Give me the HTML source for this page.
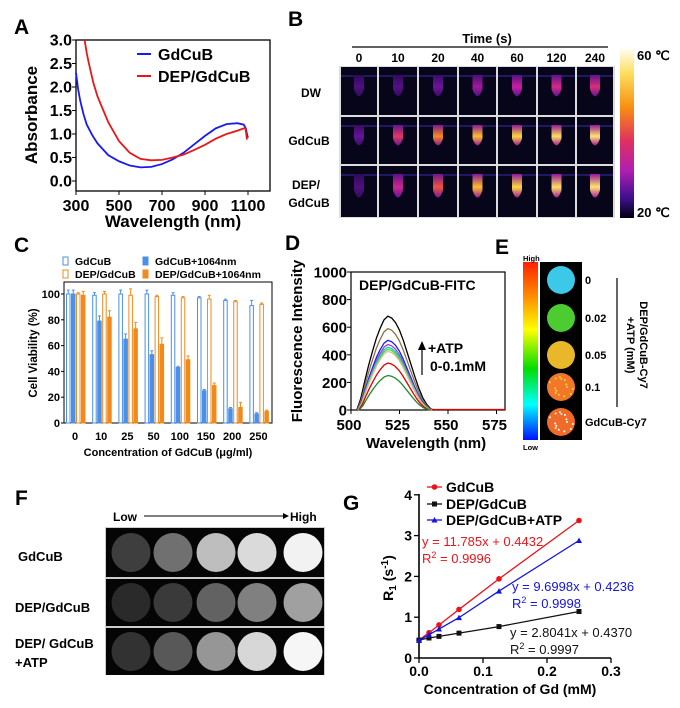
<!DOCTYPE html>
<html><head><meta charset="utf-8"><style>
body{margin:0;background:#fff}
svg{display:block}
text{font-family:"Liberation Sans",Arial,sans-serif}
</style></head><body>
<svg id="fig" width="680" height="708" viewBox="0 0 680 708" xmlns="http://www.w3.org/2000/svg">
<defs>
<linearGradient id="gB" x1="0" y1="0" x2="0" y2="1">
<stop offset="0" stop-color="#ffffff"/><stop offset="0.15" stop-color="#fde060"/><stop offset="0.35" stop-color="#f89010"/><stop offset="0.55" stop-color="#e03060"/><stop offset="0.72" stop-color="#b020b0"/><stop offset="0.88" stop-color="#401090"/><stop offset="1" stop-color="#000010"/>
</linearGradient>
<linearGradient id="gE" x1="0" y1="0" x2="0" y2="1">
<stop offset="0" stop-color="#ff2000"/><stop offset="0.2" stop-color="#ff9000"/><stop offset="0.38" stop-color="#ffff00"/><stop offset="0.6" stop-color="#00dd00"/><stop offset="0.8" stop-color="#00ffff"/><stop offset="1" stop-color="#0010ff"/>
</linearGradient>
</defs>
<g id="gA"></g>
<g id="gBp"></g>
<g id="gC"></g>
<g id="gD"></g>
<g id="gEp"></g>
<g id="gF"></g>
<g id="gG"></g>
</svg>
<script>
// ---------- Panel A data ----------
const aWlBlue=[300,310,320,335,350,375,400,450,500,550,600,650,700,750,800,850,900,950,1000,1050,1080,1090,1095,1100];
const aAbsBlue=[2.3,1.95,1.7,1.42,1.2,0.98,0.8,0.55,0.42,0.33,0.29,0.3,0.36,0.46,0.6,0.78,0.96,1.12,1.21,1.23,1.2,1.12,1.0,0.92];
const aWlRed=[340,350,360,380,400,450,500,550,600,650,700,750,800,850,900,950,1000,1050,1080,1088,1092,1095];
const aAbsRed=[3.0,2.72,2.5,2.1,1.8,1.25,0.85,0.6,0.47,0.44,0.45,0.5,0.56,0.66,0.77,0.9,1.0,1.07,1.12,1.12,1.0,0.88];
const aXTicks=[300,500,700,900,1100];
const aYTicks=[0.0,0.5,1.0,1.5,2.0,2.5,3.0];
// ---------- Panel B data ----------
const bTimes=["0","10","20","40","60","120","240"];
const bRows=["DW","GdCuB","DEP/GdCuB"];
const bHeatDW=[0.22,0.24,0.32,0.45,0.55,0.6,0.62];
const bHeatGd=[0.3,0.65,0.8,0.88,0.92,0.94,0.95];
const bHeatDEP=[0.22,0.58,0.72,0.88,0.92,0.94,0.95];
// ---------- Panel C data ----------
const cCats=["0","10","25","50","100","150","200","250"];
const cGd=[100,99,100,100,99,97,95,91];
const cGdErr=[3,2,3,3,2,1,1,4];
const cGdL=[100,79,65,53,43,25,11,7];
const cGdLErr=[3,4,4,3,1,1,1,1];
const cDep=[100,100,99,98,97,96,94,92];
const cDepErr=[1,2,5,1,1,3,1,1];
const cDepL=[99,82,73,61,49,29,12,9];
const cDepLErr=[3,5,5,5,3,2,4,1];
const cYTicks=[0,20,40,60,80,100];
// ---------- Panel D data ----------
const dPeaks=[680,590,505,475,455,440,425,340,250];
const dColors=["#000000","#8b7346","#1a1aff","#a040d0","#20c8c0","#40e040","#e8b888","#e00000","#1e8a2a"];
const dProfileWl=[503,505,507,509,511,513,515,517,519,521,523,525,527,529,531,533,535,537,539,541,542.5];
const dProfile=[0,0.12,0.3,0.47,0.62,0.76,0.87,0.96,1,0.98,0.93,0.85,0.74,0.61,0.48,0.35,0.23,0.13,0.06,0.015,0];
const dXTicks=[500,525,550,575];
const dYTicks=[0,200,400,600,800,1000];
// ---------- Panel E data ----------
const eLabels=["0","0.02","0.05","0.1","GdCuB-Cy7"];
const eColors=["#3cc8e8","#4ccc30","#e8b828","#f07828","#f06a28"];
// ---------- Panel F data ----------
const fRows=["GdCuB","DEP/GdCuB","DEP/ GdCuB"];
const fGrayGd=[62,112,190,218,242];
const fGrayDep=[42,58,98,128,160];
const fGrayAtp=[50,88,150,215,246];
// ---------- Panel G data ----------
const gX=[0,0.015625,0.03125,0.0625,0.125,0.25];
const gGd=[0.44,0.62,0.81,1.19,1.94,3.37];
const gDep=[0.44,0.49,0.53,0.61,0.77,1.14];
const gAtp=[0.43,0.57,0.71,0.99,1.64,2.88];
const gXTicks=[0.0,0.1,0.2,0.3];
const gYTicks=[0,1,2,3,4];

const NS="http://www.w3.org/2000/svg";
function mk(parent,tag,attrs,txt){const e=document.createElementNS(NS,tag);for(const k in attrs)e.setAttribute(k,attrs[k]);if(txt!==undefined)e.textContent=txt;parent.appendChild(e);return e;}
function txt(p,x,y,s,size,opts){opts=opts||{};const e=mk(p,'text',{x:x,y:y,'font-size':size,'font-weight':opts.bold===false?'normal':'bold','text-anchor':opts.anchor||'start',fill:opts.fill||'#000'},s);if(opts.rot)e.setAttribute('transform','rotate('+opts.rot+' '+x+' '+y+')');return e;}
function marker(g,shape,X,Y,c){let m;
  if(shape=='circle')m=mk(g,'circle',{cx:X,cy:Y,r:2.8,fill:c});
  else if(shape=='square')m=mk(g,'rect',{x:X-2.5,y:Y-2.5,width:5,height:5,fill:c});
  else m=mk(g,'path',{d:'M'+X+','+(Y-3)+' L'+(X+3)+','+(Y+2.5)+' L'+(X-3)+','+(Y+2.5)+' Z',fill:c});
  return m;}

// ===== Panel A =====
(function(){
const g=document.getElementById('gA');
const xA=v=>76+(v-300)*0.215, yA=v=>181-v*47;
let t=txt(g,14,34,"A",21);
let r=mk(g,'rect',{x:76,y:40,width:194,height:151,fill:'none',stroke:'#000','stroke-width':1.3});

aYTicks.forEach(v=>{mk(g,'line',{x1:72,x2:76,y1:yA(v),y2:yA(v),stroke:'#000'});
 let e=txt(g,72,yA(v)+5.5,v.toFixed(1),16,{anchor:'end'});});
aXTicks.forEach(v=>{mk(g,'line',{x1:xA(v),x2:xA(v),y1:191,y2:195,stroke:'#000'});
 let e=txt(g,xA(v),211,String(v),16,{anchor:'middle'});});
t=txt(g,37,115,"Absorbance",17,{anchor:'middle',rot:-90});
t=txt(g,173,227,"Wavelength (nm)",17,{anchor:'middle'});
const line=(xs,ys,c,n)=>{const p=mk(g,'polyline',{points:xs.map((x,i)=>xA(x)+','+yA(ys[i])).join(' '),fill:'none',stroke:c,'stroke-width':1.8});};
line(aWlBlue,aAbsBlue,'#1a1aee','gdcub-absorbance-line');
line(aWlRed,aAbsRed,'#e81818','dep-gdcub-absorbance-line');
mk(g,'line',{x1:137,x2:151,y1:54,y2:54,stroke:'#1a1aee','stroke-width':2});
t=txt(g,158,60,"GdCuB",16);
mk(g,'line',{x1:137,x2:151,y1:76,y2:76,stroke:'#e81818','stroke-width':2});
t=txt(g,158,82,"DEP/GdCuB",16);
})();

// ===== Panel B =====
(function(){
const g=document.getElementById('gBp');
let t=txt(g,288,26,"B",21);
t=txt(g,487,43,"Time (s)",13,{anchor:'middle'});
mk(g,'line',{x1:352,x2:608,y1:47,y2:47,stroke:'#000','stroke-width':1.2});
const colX=[340,378,418,458,497,537,576,614];
const rowY=[[67,115],[117,164],[166,217]];
bTimes.forEach((s,i)=>{let e=txt(g,(colX[i]+colX[i+1])/2,62,s,12,{anchor:'middle'});});
const cmap=[[0,[20,5,60]],[0.3,[100,20,150]],[0.55,[200,30,160]],[0.7,[235,70,70]],[0.82,[250,150,20]],[0.92,[253,215,60]],[1,[255,250,200]]];
function col(v){for(let i=1;i<cmap.length;i++){if(v<=cmap[i][0]){const a=cmap[i-1],b=cmap[i],f=(v-a[0])/(b[0]-a[0]);return 'rgb('+a[1].map((c,k)=>Math.round(c+(b[1][k]-c)*f)).join(',')+')';}}return 'rgb(255,250,200)';}
const heats=[bHeatDW,bHeatGd,bHeatDEP];
mk(g,'rect',{x:339,y:66,width:276,height:152,fill:'#ddd'});
heats.forEach((row,ri)=>{row.forEach((v,ci)=>{
 const x0=colX[ci]+1,x1=colX[ci+1]-1,y0=rowY[ri][0],y1=rowY[ri][1];
 let c=mk(g,'rect',{x:x0,y:y0,width:x1-x0,height:y1-y0,fill:'#07051a'});
 
 mk(g,'line',{x1:x0,x2:x1,y1:y0+9,y2:y0+9,stroke:'#2a1e7a','stroke-width':1.5});
 const cx=(x0+x1)/2,top=y0+8,bot=y1-16;
 const id='tg'+ri+'_'+ci;
 const lg=mk(document.querySelector('defs'),'linearGradient',{id:id,x1:0,y1:0,x2:0,y2:1});
 mk(lg,'stop',{offset:0,'stop-color':col(v*0.45)});mk(lg,'stop',{offset:0.55,'stop-color':col(v)});mk(lg,'stop',{offset:1,'stop-color':col(v*0.5)});
 const w=5;
 let p=mk(g,'path',{d:'M'+(cx-w)+','+top+' L'+(cx+w)+','+top+' L'+(cx+w)+','+(top+(bot-top)*0.6)+' Q'+cx+','+(bot+4)+' '+(cx-w)+','+(top+(bot-top)*0.6)+' Z',fill:'url(#'+id+')'});
 
});});
t=txt(g,311,97,"DW",12,{anchor:'middle'});
t=txt(g,309,145,"GdCuB",12,{anchor:'middle'});
t=txt(g,306,189,"DEP/",12,{anchor:'middle'});
t=txt(g,309,207,"GdCuB",12,{anchor:'middle'});
let cb=mk(g,'rect',{x:620,y:47,width:14,height:171,fill:'url(#gB)'});
t=txt(g,637,60,"60 ℃",13);
t=txt(g,637,217,"20 ℃",13);
})();

// ===== Panel C =====
(function(){
const g=document.getElementById('gC');
const yC=v=>423-v*1.29, cx=i=>75+i*26.2;
let t=txt(g,14,252,"C",21);
const leg=[[63,257,'#4a90e8',false,"GdCuB"],[143,257,'#4a90e8',true,"GdCuB+1064nm"],[63,270,'#f08a1c',false,"DEP/GdCuB"],[143,270,'#f08a1c',true,"DEP/GdCuB+1064nm"]];
leg.forEach(l=>{mk(g,'rect',{x:l[0],y:l[1],width:5,height:8,fill:l[3]?l[2]:'#fff',stroke:l[2],'stroke-width':1});
 let e=txt(g,l[0]+12,l[1]+8,l[4],10.5);});
let r=mk(g,'rect',{x:64,y:282,width:208,height:141,fill:'none',stroke:'#000','stroke-width':1});
cYTicks.forEach(v=>{mk(g,'line',{x1:61,x2:64,y1:yC(v),y2:yC(v),stroke:'#000'});let e=txt(g,60,yC(v)+4,String(v),11,{anchor:'end'});});
cCats.forEach((s,i)=>{let e=txt(g,cx(i),440,s,11,{anchor:'middle'});});
const series=[[cGd,cGdErr,-9,'#4a90e8',false],[cGdL,cGdLErr,-4,'#4a90e8',true],[cDep,cDepErr,1,'#f08a1c',false],[cDepL,cDepLErr,6,'#f08a1c',true]];
series.forEach(sr=>{sr[0].forEach((v,i)=>{
 const x=cx(i)+sr[2];
 let b=mk(g,'rect',{x:x+0.5,y:yC(v),width:3.5,height:423-yC(v),fill:sr[4]?sr[3]:'#fff',stroke:sr[3],'stroke-width':1});
 
 const xm=x+2.25;
 let e=mk(g,'line',{x1:xm,x2:xm,y1:yC(v),y2:yC(v+sr[1][i]),stroke:sr[3],'stroke-width':1});
 
 mk(g,'line',{x1:xm-1.5,x2:xm+1.5,y1:yC(v+sr[1][i]),y2:yC(v+sr[1][i]),stroke:sr[3],'stroke-width':1});
});});
t=txt(g,37,353,"Cell Viability (%)",11.5,{anchor:'middle',rot:-90});
t=txt(g,168,456,"Concentration of GdCuB (μg/ml)",11,{anchor:'middle'});
})();

// ===== Panel D =====
(function(){
const g=document.getElementById('gD');
const xD=v=>351+(v-500)*1.94, yD=v=>410-v*0.138;
let t=txt(g,285,250,"D",21);
let r=mk(g,'rect',{x:351,y:272,width:154,height:138,fill:'none',stroke:'#000','stroke-width':1.2});
dYTicks.forEach(v=>{mk(g,'line',{x1:347,x2:351,y1:yD(v),y2:yD(v),stroke:'#000'});let e=txt(g,347,yD(v)+5.5,String(v),15,{anchor:'end'});});
dXTicks.forEach(v=>{mk(g,'line',{x1:xD(v),x2:xD(v),y1:410,y2:414,stroke:'#000'});let e=txt(g,xD(v)-2,430,String(v),15,{anchor:'middle'});});
mk(g,'line',{x1:xD(541),x2:505,y1:409.5,y2:409.5,stroke:'#e00000','stroke-width':1.2});
dPeaks.forEach((pk,i)=>{
 const pts=dProfileWl.map((w,k)=>xD(519+(w-519)*(0.88+0.12*pk/680))+','+yD(pk*dProfile[k])).join(' ');
 let p=mk(g,'polyline',{points:pts,fill:'none',stroke:dColors[i],'stroke-width':1.3});
 
});
t=txt(g,359,290,"DEP/GdCuB-FITC",14);
mk(g,'line',{x1:422,x2:422,y1:375,y2:347,stroke:'#000','stroke-width':1.2});
mk(g,'path',{d:'M418,350 L422,341 L426,350 Z',fill:'#000'});
t=txt(g,428,353,"+ATP",14);
t=txt(g,430,371,"0-0.1mM",14);
t=txt(g,302,341,"Fluorescence Intensity",15,{anchor:'middle',rot:-90});
t=txt(g,426,448,"Wavelength (nm)",15,{anchor:'middle'});
})();

// ===== Panel E =====
(function(){
const g=document.getElementById('gEp');
let t=txt(g,495,254,"E",21);
let cb=mk(g,'rect',{x:523,y:262,width:15,height:178,fill:'url(#gE)'});
t=txt(g,523,261,"High",7.5);
t=txt(g,523,450,"Low",7.5);
mk(g,'rect',{x:540,y:262,width:42,height:178,fill:'#000'});
const cy=[280,318,355,387,422];
eLabels.forEach((s,i)=>{
 let c=mk(g,'circle',{cx:561,cy:cy[i],r:14,fill:eColors[i]});
 if(i>=3){for(let k=0;k<14;k++){mk(g,'circle',{cx:561+Math.cos(k*2.3)*(6+k%4*2),cy:cy[i]+Math.sin(k*2.3)*(6+k%4*2),r:1,fill:i==4?'#fff':'#ffd040'});}}
 let e=txt(g,585,cy[i]+4,s,11);
});
mk(g,'line',{x1:617,x2:617,y1:278,y2:407,stroke:'#000','stroke-width':1.2});
t=txt(g,640,345,"DEP/GdCuB-Cy7",11,{anchor:'middle',rot:90});
t=txt(g,627,345,"+ATP (mM)",11,{anchor:'middle',rot:90});
})();

// ===== Panel F =====
(function(){
const g=document.getElementById('gF');
let t=txt(g,15,505,"F",21);
t=txt(g,113,521,"Low",12);
mk(g,'line',{x1:144,x2:284,y1:516,y2:516,stroke:'#000'});mk(g,'path',{d:'M283,513 L289,516 L283,519 Z',fill:'#000'});
t=txt(g,290,521,"High",12);
mk(g,'rect',{x:105,y:527,width:220,height:148,fill:'#ccc'});
const rows=[[528,577],[579,626],[628,675]];
const cxs=[131,173,216,257,303];
[fGrayGd,fGrayDep,fGrayAtp].forEach((row,ri)=>{
 mk(g,'rect',{x:106,y:rows[ri][0],width:218,height:rows[ri][1]-rows[ri][0],fill:'#050505'});
 const cy=(rows[ri][0]+rows[ri][1])/2;
 row.forEach((v,ci)=>{let c=mk(g,'circle',{cx:cxs[ci],cy:cy,r:19.5,fill:'rgb('+v+','+v+','+v+')'});});
});
t=txt(g,18,561,"GdCuB",13);
t=txt(g,15,612,"DEP/GdCuB",13);
t=txt(g,15,648,"DEP/ GdCuB",13);
t=txt(g,15,667,"+ATP",13);
})();

// ===== Panel G =====
(function(){
const g=document.getElementById('gG');
const xG=v=>419+v*640, yG=v=>658-v*40.8;
let t=txt(g,343,510,"G",21);
mk(g,'line',{x1:419,x2:419,y1:494,y2:658,stroke:'#000','stroke-width':1.6});
mk(g,'line',{x1:419,x2:611,y1:658,y2:658,stroke:'#000','stroke-width':1.6});
gYTicks.forEach(v=>{mk(g,'line',{x1:414,x2:419,y1:yG(v),y2:yG(v),stroke:'#000','stroke-width':1.3});let e=txt(g,412,yG(v)+5,String(v),14,{anchor:'end'});});
gXTicks.forEach(v=>{mk(g,'line',{x1:xG(v),x2:xG(v),y1:658,y2:663,stroke:'#000','stroke-width':1.3});let e=txt(g,xG(v),676,v.toFixed(1),14,{anchor:'middle'});});
const ser=[[gGd,'#e8141c','circle','gdcub-series'],[gDep,'#111','square','dep-gdcub-series'],[gAtp,'#1414e0','triangle','dep-gdcub-atp-series']];
ser.forEach(s=>{
 let p=mk(g,'polyline',{points:gX.map((x,i)=>xG(x)+','+yG(s[0][i])).join(' '),fill:'none',stroke:s[1],'stroke-width':1.3});
 
 gX.forEach((x,i)=>{let m=marker(g,s[2],xG(x),yG(s[0][i]),s[1]);
  });
});
const legs=[[487,'#e8141c','GdCuB','circle'],[504,'#111','DEP/GdCuB','square'],[520,'#1414e0','DEP/GdCuB+ATP','triangle']];
legs.forEach(l=>{mk(g,'line',{x1:427,x2:442,y1:l[0],y2:l[0],stroke:l[1],'stroke-width':1.3});marker(g,l[3],434.5,l[0],l[1]);
 let e=txt(g,446,l[0]+5,l[2],14);});
const eq=[[422,546,'#e8141c',"y = 11.785x + 0.4432","0.9996"],[512,591,'#1414e0',"y = 9.6998x + 0.4236","0.9998"],[510,637,'#111',"y = 2.8041x + 0.4370","0.9997"]];
eq.forEach(q=>{let e=txt(g,q[0],q[1],q[3],13,{bold:false,fill:q[2]});
 e=mk(g,'text',{x:q[0],y:q[1]+17,'font-size':13,fill:q[2]});e.innerHTML='R<tspan dy="-5" font-size="9">2</tspan><tspan dy="5"> = '+q[4]+'</tspan>';
 });
t=mk(g,'text',{x:393,y:578,'font-size':14,'font-weight':'bold','text-anchor':'middle',transform:'rotate(-90 393 578)'});
t.innerHTML='R<tspan dy="3" font-size="10">1</tspan><tspan dy="-3"> (s</tspan><tspan dy="-5" font-size="10">-1</tspan><tspan dy="5">)</tspan>';

t=txt(g,510,694,"Concentration of Gd (mM)",14,{anchor:'middle'});
})();
</script>
</body></html>
